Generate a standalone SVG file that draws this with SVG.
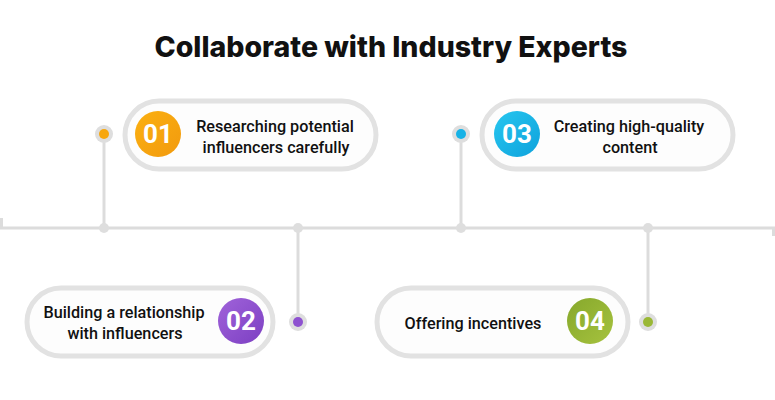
<svg xmlns="http://www.w3.org/2000/svg" width="775" height="400" viewBox="0 0 775 400">
<style>
.title{font-family:Inter,"Liberation Sans",sans-serif;font-weight:800;font-size:28.5px;fill:#111;text-anchor:middle}
.lbl{font-family:Roboto,"Liberation Sans",sans-serif;font-weight:500;font-size:16.2px;fill:#111;text-anchor:middle}
.num{font-family:Roboto,"Liberation Sans",sans-serif;font-weight:700;font-size:26px;fill:#fff;text-anchor:middle}
.pill{fill:#fdfdfd;stroke:#e2e2e2;stroke-width:5}
.line{stroke:#dcdcdc;stroke-width:3;fill:none}
.ring{fill:#dedede}
</style>
<defs>
<linearGradient id="gO" x1="0" y1="0" x2="1" y2="1"><stop offset="0" stop-color="#fbb011"/><stop offset="1" stop-color="#f29a0e"/></linearGradient>
<linearGradient id="gB" x1="0" y1="0" x2="1" y2="1"><stop offset="0" stop-color="#27c6ef"/><stop offset="1" stop-color="#0ea2dc"/></linearGradient>
<linearGradient id="gP" x1="0" y1="0" x2="1" y2="1"><stop offset="0" stop-color="#a063da"/><stop offset="1" stop-color="#7c3fc2"/></linearGradient>
<linearGradient id="gG" x1="0" y1="0" x2="1" y2="1"><stop offset="0" stop-color="#86a82c"/><stop offset="1" stop-color="#a6c23e"/></linearGradient>
</defs>
<rect width="775" height="400" fill="#fff"/>
<text class="title" x="391" y="57">Collaborate with Industry Experts</text>
<g id="connectors">
<path class="line" d="M1.5,218 V228 H773.5 V236"/>
<path class="line" d="M104,134 V228"/>
<path class="line" d="M461,134 V228"/>
<path class="line" d="M298,228 V322"/>
<path class="line" d="M648,228 V322"/>
<circle cx="104" cy="228" r="5" class="ring"/>
<circle cx="298" cy="228" r="5" class="ring"/>
<circle cx="461" cy="228" r="5" class="ring"/>
<circle cx="648" cy="228" r="5" class="ring"/>
</g>
<g id="node1">
<circle cx="104" cy="134" r="9" class="ring"/>
<circle cx="104" cy="134" r="5" fill="#f7a70f"/>
<rect class="pill" x="125" y="101" width="251" height="68" rx="34"/>
<circle cx="158" cy="134" r="23" fill="url(#gO)"/>
<text class="num" x="158" y="143">01</text>
<text class="lbl" x="275" y="132">Researching potential</text>
<text class="lbl" x="276" y="153">influencers carefully</text>
</g>
<g id="node3">
<circle cx="461" cy="134" r="9" class="ring"/>
<circle cx="461" cy="134" r="5" fill="#17b2e6"/>
<rect class="pill" x="482" y="101" width="251" height="68" rx="34"/>
<circle cx="517" cy="134" r="23" fill="url(#gB)"/>
<text class="num" x="517" y="143">03</text>
<text class="lbl" x="629" y="132">Creating high-quality</text>
<text class="lbl" x="630" y="153">content</text>
</g>
<g id="node2">
<circle cx="298" cy="322" r="9" class="ring"/>
<circle cx="298" cy="322" r="5" fill="#8e52d0"/>
<rect class="pill" x="27" y="288" width="246" height="68" rx="34"/>
<circle cx="241" cy="321" r="23" fill="url(#gP)"/>
<text class="num" x="241" y="330">02</text>
<text class="lbl" x="124" y="318">Building a relationship</text>
<text class="lbl" x="125" y="339">with influencers</text>
</g>
<g id="node4">
<circle cx="648" cy="322" r="9" class="ring"/>
<circle cx="648" cy="322" r="5" fill="#9ab836"/>
<rect class="pill" x="377" y="288" width="251" height="68" rx="34"/>
<circle cx="590" cy="321" r="23" fill="url(#gG)"/>
<text class="num" x="590" y="330">04</text>
<text class="lbl" x="473" y="329">Offering incentives</text>
</g>
</svg>
